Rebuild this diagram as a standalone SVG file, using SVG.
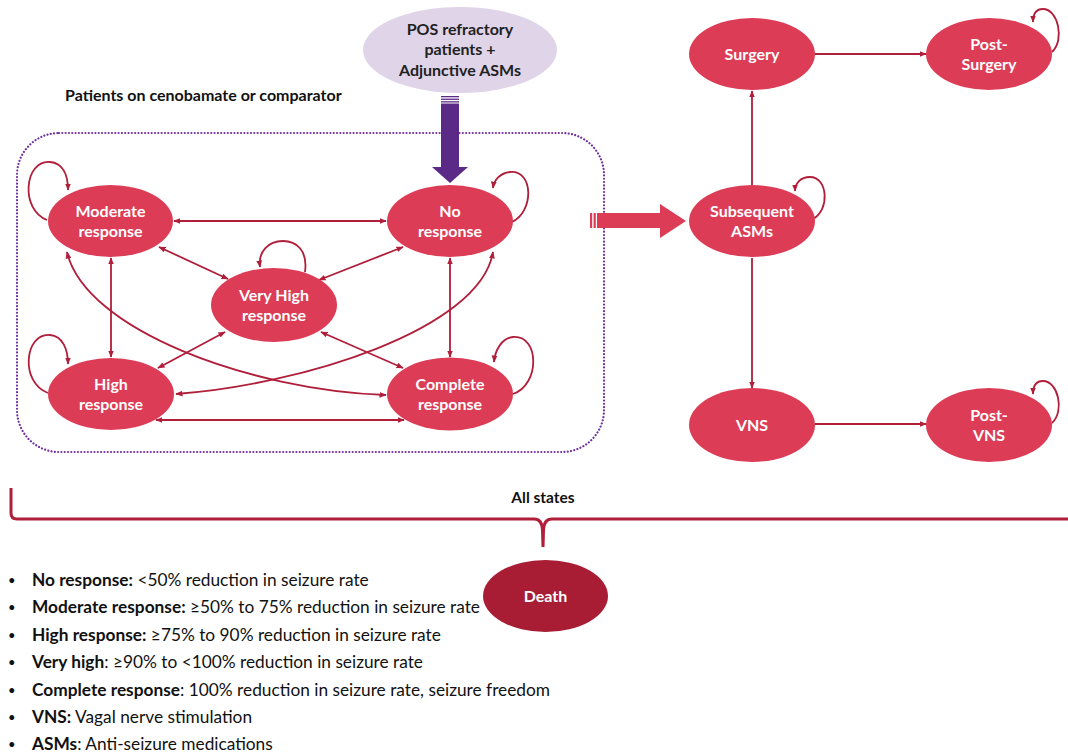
<svg xmlns="http://www.w3.org/2000/svg" width="1068" height="754" viewBox="0 0 1068 754">
<style>
.node{fill:#dc3c55}
.death{fill:#a81c34}
.nt{font-family:Lato,"Open Sans",sans-serif;font-weight:bold;font-size:16px;fill:#fff;text-anchor:middle}
.edge{fill:none;stroke:#b01e3a;stroke-width:1.8}
.bi{marker-start:url(#ah);marker-end:url(#ah)}
.one{marker-end:url(#ah)}
.leg{font-family:Lato,"Open Sans",sans-serif;font-size:17.3px;fill:#111}
.leg tspan.b{font-weight:bold}
.bul{font-family:Lato,"Open Sans",sans-serif;font-size:13px;fill:#111}
</style>
<defs>
<marker id="ah" viewBox="0 0 10 10" refX="9" refY="5" markerWidth="4" markerHeight="4" orient="auto-start-reverse" markerUnits="strokeWidth">
<path d="M0,1 L10,5 L0,9 z" fill="#b01e3a"/>
</marker>
</defs>
<rect x="0" y="0" width="1068" height="754" fill="#fff"/>

<text x="65" y="101" font-family="Lato,'Open Sans',sans-serif" font-weight="bold" font-size="16" fill="#111">Patients on cenobamate or comparator</text>

<rect id="box" x="17" y="133" width="587" height="319" rx="42" ry="42" fill="none" stroke="#7030a0" stroke-width="2.2" stroke-dasharray="0.01 3.3" stroke-linecap="round"/>

<g id="connectors">
<line class="edge bi" x1="174" y1="221" x2="386" y2="221"/>
<line class="edge bi" x1="111" y1="258" x2="111" y2="357"/>
<line class="edge bi" x1="450" y1="258" x2="450" y2="357"/>
<line class="edge bi" x1="159" y1="247" x2="228" y2="279"/>
<line class="edge bi" x1="403" y1="247" x2="319" y2="280"/>
<line class="edge bi" x1="225" y1="332" x2="158" y2="368"/>
<line class="edge bi" x1="321" y1="332" x2="403" y2="368"/>
<line class="edge bi" x1="156" y1="420" x2="404" y2="420"/>
<path class="edge bi" d="M67,252 C85,330 250,390 386,395"/>
<path class="edge bi" d="M176,394 C300,385 480,330 493,252"/>
<path class="edge one" d="M47,220 C20,210 24,160 50,162 C63,163 68,175 68,190"/>
<path class="edge one" d="M48,393 C20,383 24,333 50,335 C63,336 68,350 68,364"/>
<path class="edge one" d="M512,222 C534,212 534,170 510,172 C500,173 494,180 493,188"/>
<path class="edge one" d="M513,394 C540,385 540,335 513,337 C502,338 495,350 494,362"/>
<path class="edge one" d="M305,272 C308,250 296,241 283,241 C268,241 258,252 260,267"/>
<path class="edge one" d="M813,219 C830,210 828,177 810,177 C800,177 795,184 795,191"/>
<path class="edge one" d="M1052,52 C1065,40 1058,9 1043,9 C1035,9 1033,15 1033,22"/>
<path class="edge one" d="M1052,423 C1065,411 1058,381 1043,381 C1035,381 1033,387 1033,394"/>
<line class="edge one" x1="752" y1="185" x2="752" y2="91"/>
<line class="edge one" x1="752" y1="258" x2="752" y2="388"/>
<line class="edge one" x1="815" y1="54" x2="926" y2="54"/>
<line class="edge one" x1="815" y1="424" x2="926" y2="424"/>
</g>

<g id="pos">
<ellipse cx="460" cy="50" rx="97" ry="43" fill="#e0d4e8"/>
<text x="460" y="35" font-family="Lato,'Open Sans',sans-serif" font-weight="bold" font-size="16" fill="#222" text-anchor="middle">POS refractory</text>
<text x="460" y="55" font-family="Lato,'Open Sans',sans-serif" font-weight="bold" font-size="16" fill="#222" text-anchor="middle">patients +</text>
<text x="460" y="76" font-family="Lato,'Open Sans',sans-serif" font-weight="bold" font-size="16" fill="#222" text-anchor="middle">Adjunctive ASMs</text>
</g>

<g id="entry-arrow" fill="#5b2a86">
<rect x="441" y="96" width="18" height="1.3"/>
<rect x="441" y="98.6" width="18" height="1.3"/>
<rect x="441" y="101.2" width="18" height="1.3"/>
<polygon points="441,103.5 459,103.5 459,167 468,167 450,183 432,167 441,167"/>
</g>

<g id="exit-arrow" fill="#dc3c55">
<rect x="590" y="213" width="2.2" height="15"/>
<rect x="593.6" y="213" width="2.2" height="15"/>
<polygon points="597,213 660,213 660,204 686,221 660,238 660,228 597,228"/>
</g>

<g id="moderate"><ellipse class="node" cx="110.5" cy="221" rx="62.5" ry="36"/><text class="nt" x="110.5" y="217">Moderate</text><text class="nt" x="110.5" y="237">response</text></g>
<g id="no"><ellipse class="node" cx="450" cy="221" rx="63" ry="36"/><text class="nt" x="450" y="217">No</text><text class="nt" x="450" y="237">response</text></g>
<g id="veryhigh"><ellipse class="node" cx="274" cy="305" rx="63" ry="37"/><text class="nt" x="274" y="301">Very High</text><text class="nt" x="274" y="321">response</text></g>
<g id="high"><ellipse class="node" cx="111" cy="394" rx="63" ry="36"/><text class="nt" x="111" y="390">High</text><text class="nt" x="111" y="410">response</text></g>
<g id="complete"><ellipse class="node" cx="450" cy="394" rx="63" ry="36.5"/><text class="nt" x="450" y="390">Complete</text><text class="nt" x="450" y="410">response</text></g>
<g id="surgery"><ellipse class="node" cx="752" cy="54" rx="63" ry="36"/><text class="nt" x="752" y="60">Surgery</text></g>
<g id="postsurgery"><ellipse class="node" cx="989" cy="54" rx="63" ry="36"/><text class="nt" x="989" y="50">Post-</text><text class="nt" x="989" y="70">Surgery</text></g>
<g id="subsequent"><ellipse class="node" cx="752" cy="221" rx="63" ry="36"/><text class="nt" x="752" y="217">Subsequent</text><text class="nt" x="752" y="237">ASMs</text></g>
<g id="vns"><ellipse class="node" cx="752" cy="425" rx="63" ry="37"/><text class="nt" x="752" y="431">VNS</text></g>
<g id="postvns"><ellipse class="node" cx="989" cy="425" rx="63" ry="37"/><text class="nt" x="989" y="421">Post-</text><text class="nt" x="989" y="441">VNS</text></g>

<g id="allstates">
<path d="M11,488 L11,513 Q11,519 17,519 L534,519 Q542,519 542.5,530 L543,547 L543.5,530 Q544,519 552,519 L1068,519" fill="none" stroke="#b01e3a" stroke-width="3"/>
<text x="543" y="503" font-family="Lato,'Open Sans',sans-serif" font-weight="bold" font-size="15.5" fill="#111" text-anchor="middle">All states</text>
</g>

<g id="legend">
<text class="bul" x="8" y="585">•</text><text class="leg" x="32" y="586"><tspan class="b">No response:</tspan> &lt;50% reduction in seizure rate</text>
<text class="bul" x="8" y="612">•</text><text class="leg" x="32" y="613"><tspan class="b">Moderate response:</tspan> ≥50% to 75% reduction in seizure rate</text>
<text class="bul" x="8" y="640">•</text><text class="leg" x="32" y="641"><tspan class="b">High response:</tspan> ≥75% to 90% reduction in seizure rate</text>
<text class="bul" x="8" y="667">•</text><text class="leg" x="32" y="668"><tspan class="b">Very high</tspan>: ≥90% to &lt;100% reduction in seizure rate</text>
<text class="bul" x="8" y="695">•</text><text class="leg" x="32" y="696"><tspan class="b">Complete response</tspan>: 100% reduction in seizure rate, seizure freedom</text>
<text class="bul" x="8" y="722">•</text><text class="leg" x="32" y="723"><tspan class="b">VNS:</tspan> Vagal nerve stimulation</text>
<text class="bul" x="8" y="749">•</text><text class="leg" x="32" y="750"><tspan class="b">ASMs</tspan>: Anti-seizure medications</text>
</g>

<g id="death"><ellipse class="death" cx="545.5" cy="596" rx="62.5" ry="36"/><text class="nt" x="545.5" y="602">Death</text></g>
</svg>
